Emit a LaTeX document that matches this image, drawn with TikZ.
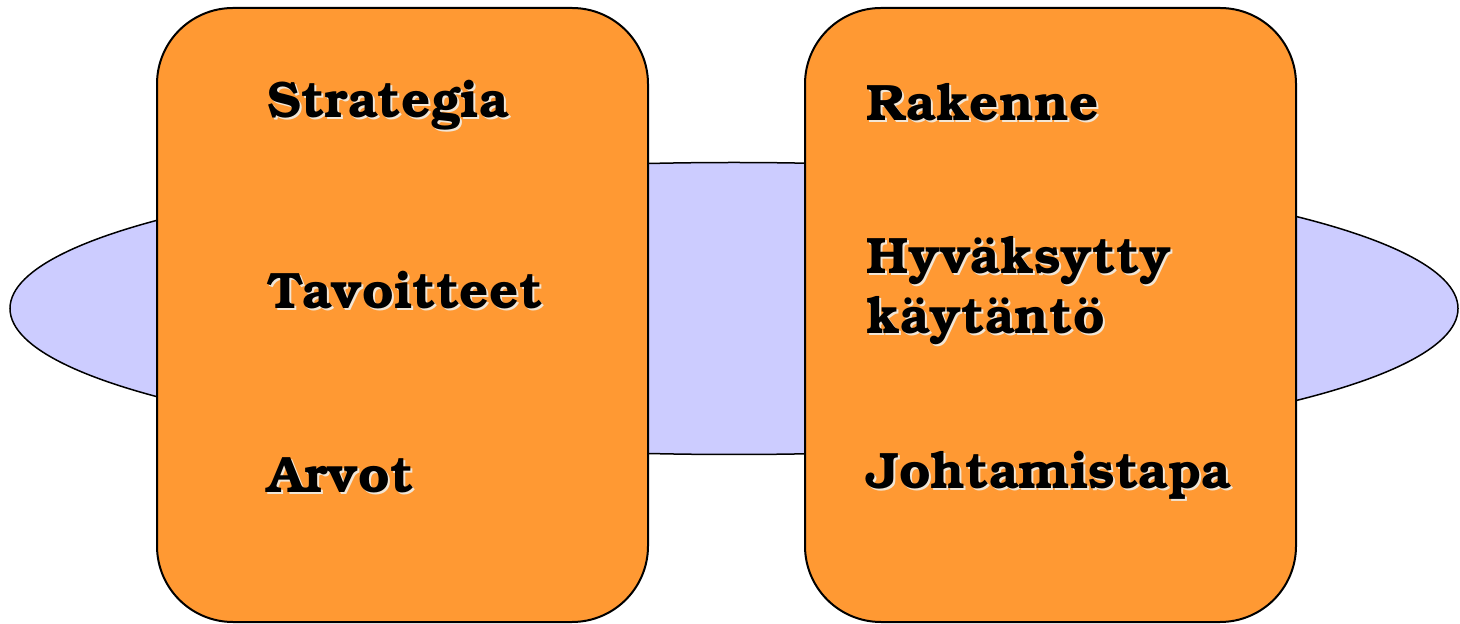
\documentclass[tikz,border=0pt]{standalone}
\usepackage[T1]{fontenc}
\usepackage{xcolor}
\usetikzlibrary{positioning,shapes.geometric}

\definecolor{boxorange}{HTML}{FF9933}
\definecolor{ringblue}{HTML}{CCCCFF}
\definecolor{shadowpale}{HTML}{F2E6D6}

% text with a pale drop shadow
\newcommand{\shadowed}[1]{\makebox[0pt][l]{\hspace{1pt}\raisebox{-1pt}{\color{shadowpale}#1}}#1}

\begin{document}
\begin{tikzpicture}[
    x=0.5pt, y=-0.5pt,
    ring/.style={draw, ellipse, fill=ringblue, line width=0.75pt, inner sep=0pt, minimum width=724pt, minimum height=146pt},
    panel/.style={draw, fill=boxorange, line width=1pt, rounded corners=38pt, minimum width=245.5pt, minimum height=307pt, inner sep=0pt},
    lbl/.style={anchor=west, inner sep=0pt, align=left, font=\fontfamily{pbk}\bfseries\fontsize{25.6}{30}\selectfont}
]
    \useasboundingbox (0,0) rectangle (1460,624);
    % the ring behind both panels
    \node[ring] (ring) at (734,308.5) {};
    % left and right panels
    \node[panel] (left) at (402.5,315) {};
    \node[panel] (right) at (1050.5,315) {};

    % left texts
    \node[lbl] (strat) at (267,106) {\shadowed{Strategia}};
    \node[lbl] (tav) at (267,291) {\shadowed{Tavoitteet}};
    \node[lbl] (arv) at (267,476) {\shadowed{Arvot}};
    % right texts
    \node[lbl] (rak) at (866,103) {\shadowed{Rakenne}};
    \node[lbl] (hyv) at (866,292) {\shadowed{Hyväksytty}\\\shadowed{käytäntö}};
    \node[lbl] (joht) at (866,476) {\shadowed{Johtamistapa}};
\end{tikzpicture}
\end{document}
